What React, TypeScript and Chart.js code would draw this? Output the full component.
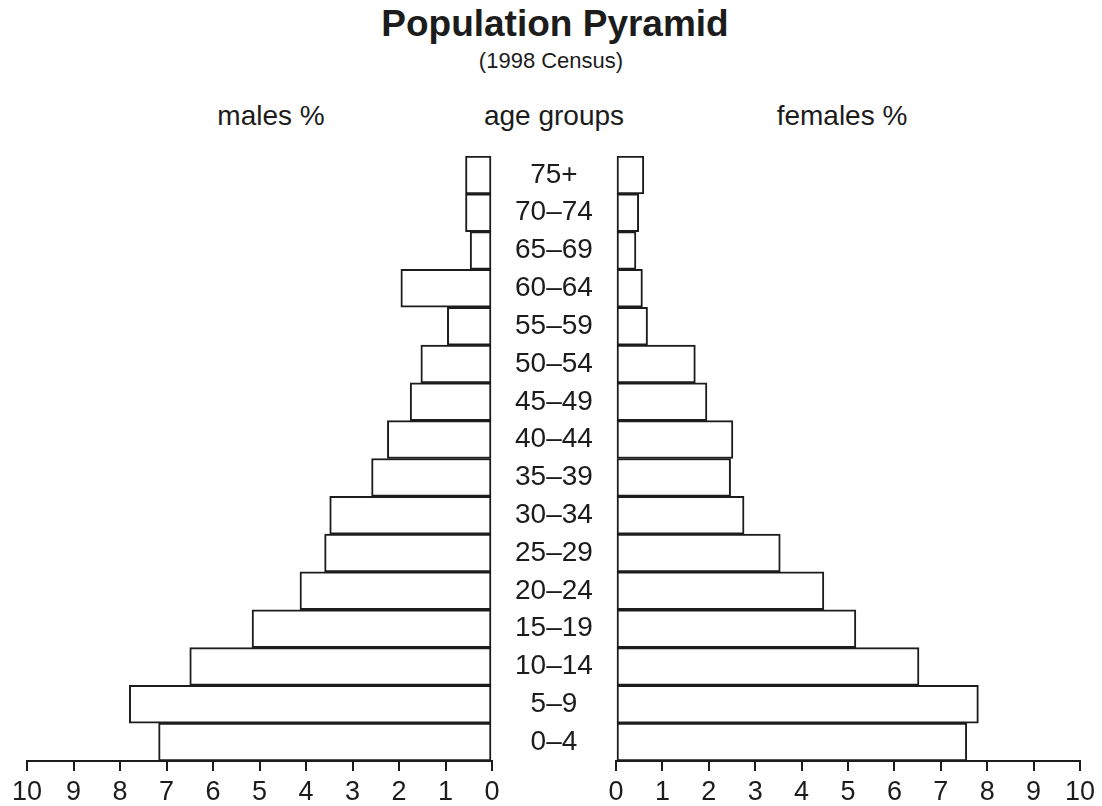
import React, { useEffect, useRef } from "react";
import { Chart, registerables } from "chart.js";

Chart.register(...registerables);

// ---- data (bottom to top) ----
const ageGroups = [
  "0–4", "5–9", "10–14", "15–19", "20–24", "25–29", "30–34", "35–39",
  "40–44", "45–49", "50–54", "55–59", "60–64", "65–69", "70–74", "75+",
];
const malesPct = [7.17, 7.8, 6.5, 5.16, 4.13, 3.6, 3.49, 2.59, 2.25, 1.76, 1.53, 0.96, 1.96, 0.47, 0.57, 0.57];
const femalesPct = [7.56, 7.81, 6.53, 5.17, 4.48, 3.54, 2.76, 2.47, 2.52, 1.96, 1.71, 0.68, 0.57, 0.43, 0.49, 0.6];
const axisMin = 0;
const axisMax = 10;
const axisStep = 1;

const titleText = "Population Pyramid";
const subtitleText = "(1998 Census)";
const headerMales = "males %";
const headerAges = "age groups";
const headerFemales = "females %";

const FONT = "'Liberation Sans', Arial, Helvetica, sans-serif";
const INK = "#1c1c1c";

function buildConfig(values: number[], left: boolean): any {
  return {
    type: "bar",
    data: {
      labels: ageGroups,
      datasets: [
        {
          data: values,
          backgroundColor: "#ffffff",
          borderColor: INK,
          borderWidth: 2,
          borderSkipped: false,
          barPercentage: 1,
          categoryPercentage: 1,
        },
      ],
    },
    options: {
      indexAxis: "y",
      animation: false,
      responsive: false,
      maintainAspectRatio: false,
      layout: {
        padding: left
          ? { left: 27, right: 0, top: 6, bottom: 0 }
          : { left: 20, right: 22, top: 6, bottom: 0 },
      },
      plugins: {
        legend: { display: false },
        tooltip: { enabled: false },
        title: { display: false },
      },
      scales: {
        x: {
          type: "linear",
          min: axisMin,
          max: axisMax,
          reverse: left,
          position: "bottom",
          ticks: {
            stepSize: axisStep,
            color: INK,
            font: { family: FONT, size: 27 },
            padding: 5,
            maxRotation: 0,
            autoSkip: false,
          },
          grid: {
            drawOnChartArea: false,
            drawTicks: true,
            tickLength: 10,
            color: INK,
            lineWidth: 2,
          },
          border: { display: true, color: INK, width: 2 },
          afterFit: (s: any) => {
            s.height = 45;
          },
        },
        y: left
          ? {
              type: "category",
              position: "right",
              reverse: true,
              grid: { display: false },
              border: { display: false },
              ticks: {
                color: INK,
                font: { family: FONT, size: 28 },
                crossAlign: "center",
                padding: 15,
                autoSkip: false,
              },
              afterFit: (s: any) => {
                s.width = 124;
                s.paddingTop = 0;
                s.paddingBottom = 0;
              },
            }
          : {
              type: "category",
              reverse: true,
              display: false,
            },
      },
    },
  };
}

export default function App() {
  const leftRef = useRef<HTMLCanvasElement | null>(null);
  const rightRef = useRef<HTMLCanvasElement | null>(null);

  useEffect(() => {
    const l = new Chart(leftRef.current as HTMLCanvasElement, buildConfig(malesPct, true));
    const r = new Chart(rightRef.current as HTMLCanvasElement, buildConfig(femalesPct, false));
    return () => {
      l.destroy();
      r.destroy();
    };
  }, []);

  const textBase: React.CSSProperties = {
    position: "absolute",
    fontFamily: FONT,
    color: INK,
    whiteSpace: "nowrap",
  };

  return (
    <div
      style={{
        position: "absolute",
        left: 0,
        top: 0,
        width: 1102,
        height: 806,
        background: "#ffffff",
        overflow: "hidden",
      }}
    >
      <div
        style={{
          ...textBase,
          left: 4,
          width: 1102,
          top: 4,
          textAlign: "center",
          fontSize: 37,
          fontWeight: "bold",
          lineHeight: "40px",
        }}
      >
        {titleText}
      </div>
      <div
        style={{
          ...textBase,
          left: 0,
          width: 1102,
          top: 47,
          textAlign: "center",
          fontSize: 22,
          lineHeight: "27px",
        }}
      >
        {subtitleText}
      </div>
      <div style={{ ...textBase, left: 271, top: 100, transform: "translateX(-50%)", fontSize: 28, lineHeight: "32px" }}>
        {headerMales}
      </div>
      <div style={{ ...textBase, left: 554, top: 100, transform: "translateX(-50%)", fontSize: 28, lineHeight: "32px" }}>
        {headerAges}
      </div>
      <div style={{ ...textBase, left: 842, top: 100, transform: "translateX(-50%)", fontSize: 28, lineHeight: "32px" }}>
        {headerFemales}
      </div>
      <canvas
        ref={leftRef}
        width={616}
        height={656}
        style={{ position: "absolute", left: 0, top: 150, width: 616, height: 656 }}
      />
      <canvas
        ref={rightRef}
        width={506}
        height={656}
        style={{ position: "absolute", left: 596, top: 150, width: 506, height: 656 }}
      />
    </div>
  );
}
